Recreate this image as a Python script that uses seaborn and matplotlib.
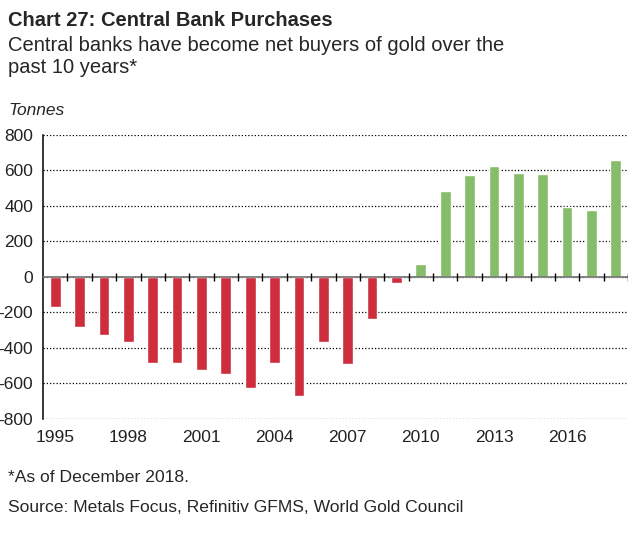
import matplotlib
matplotlib.use("Agg")
import matplotlib.pyplot as plt
import numpy as np
import pandas as pd
import seaborn as sns

# Central bank net purchases of gold, tonnes
years = list(range(1995, 2019))
tonnes = [-167, -285, -329, -368, -485, -485, -522, -548, -625, -485, -670, -368,
          -492, -238, -34, 75, 481, 571, 622, 582, 577, 391, 376, 656]
shown_years = [1995, 1998, 2001, 2004, 2007, 2010, 2013, 2016]

RED = "#cd2d3d"
GREEN = "#86bd6b"

df = pd.DataFrame({"year": years, "tonnes": tonnes})
df["side"] = np.where(df["tonnes"] < 0, "sell", "buy")

sns.set_style("white")
plt.rcParams["font.family"] = ["Liberation Sans", "DejaVu Sans"]

fig = plt.figure(figsize=(6.43, 5.49), dpi=100)
ax = fig.add_axes([43 / 643, 1 - 419 / 549, (628 - 43) / 643, (419 - 134.7) / 549])

sns.barplot(data=df, x="year", y="tonnes", hue="side",
            palette={"sell": RED, "buy": GREEN}, dodge=False, saturation=1,
            width=0.44, legend=False, ax=ax, zorder=3)

ax.set_xlim(-0.5, len(years) - 0.5)
ax.set_ylim(-800, 800)
ax.set_yticks(np.arange(-800, 801, 200))
ax.set_yticklabels([str(v) for v in range(-800, 801, 200)], fontsize=12.5)

# dotted horizontal grid
ax.yaxis.grid(True, linestyle=(0, (1, 1.6)), color="black", linewidth=0.9, zorder=0)
ax.xaxis.grid(False)

# solid grey zero line with little ticks between years
ax.axhline(0, color="#7a7a7a", linewidth=1.3, zorder=4)
bounds = np.arange(0.5, len(years), 1.0)
ax.vlines(bounds, -22, 22, color="black", linewidth=1.0, zorder=5)

pos = [years.index(y) for y in shown_years]
ax.set_xticks(pos)
ax.set_xticklabels([str(y) for y in shown_years], fontsize=12.5)
ax.tick_params(axis="both", length=0, colors="#222222")
ax.tick_params(axis="x", pad=8)
ax.tick_params(axis="y", pad=7)
ax.set_xlabel("")
ax.set_ylabel("")

for s in ["top", "right", "bottom"]:
    ax.spines[s].set_visible(False)
ax.spines["left"].set_color("black")
ax.spines["left"].set_linewidth(1.1)

fig.text(8 / 643, 1 - 26.5 / 549, "Chart 27: Central Bank Purchases",
         fontsize=14.5, fontweight="bold", va="baseline", ha="left")
fig.text(8 / 643, 1 - 51 / 549, "Central banks have become net buyers of gold over the",
         fontsize=14.5, va="baseline", ha="left")
fig.text(8 / 643, 1 - 73 / 549, "past 10 years*",
         fontsize=14.5, va="baseline", ha="left")
fig.text(8 / 643, 1 - 115 / 549, "Tonnes", fontsize=12.5, style="italic",
         va="baseline", ha="left")
fig.text(8 / 643, 1 - 478 / 549, "*As of December 2018.",
         fontsize=12.6, va="center", ha="left")
fig.text(8 / 643, 1 - 508 / 549, "Source: Metals Focus, Refinitiv GFMS, World Gold Council",
         fontsize=12.6, va="center", ha="left")

fig.savefig("out.png", dpi=100)
